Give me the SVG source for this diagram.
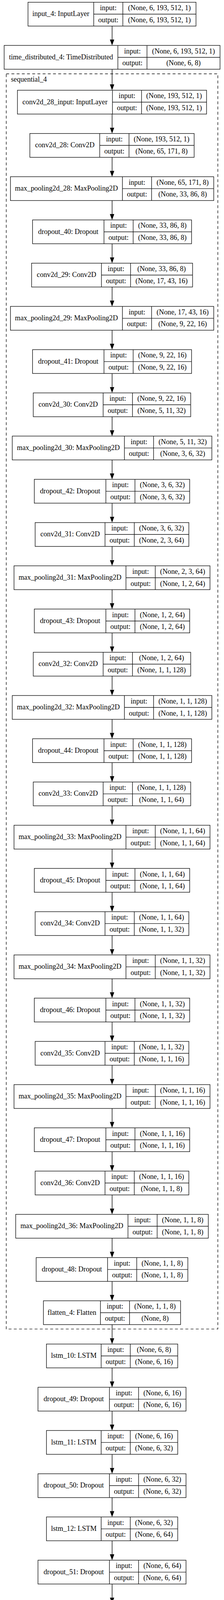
<svg xmlns="http://www.w3.org/2000/svg" width="573" height="4615" viewBox="0 0 573 4615">
<style>
.node rect{fill:#fff;stroke:#111;stroke-width:1.4}
.node path{fill:none;stroke:#111;stroke-width:1.4}
text{font-family:"Liberation Serif","Times New Roman",serif;font-size:18.2px;fill:#000;text-anchor:middle}
.r1{} 
.edges line{stroke:#000;stroke-width:1.4}
.cluster rect{fill:none;stroke:#111;stroke-width:1.4;stroke-dasharray:7.3 6}
</style>
<defs>
<marker id="ah" markerUnits="userSpaceOnUse" markerWidth="16" markerHeight="12" refX="0" refY="5.6" orient="auto"><path d="M0,0 L15,5.6 L0,11.2 z" fill="#000"/></marker>
</defs>
<rect x="0" y="0" width="573" height="4615" fill="#fff"/>
<g id="sequential_4" class="cluster"><rect x="16" y="189" width="541.3" height="3213.4"/><text x="28" y="209.3" style="text-anchor:start">sequential_4</text></g>
<g id="edges" class="edges">
<line x1="286.7" y1="66.7" x2="286.7" y2="101.3" marker-end="url(#ah)"/>
<line x1="286.7" y1="177.3" x2="286.7" y2="216" marker-end="url(#ah)"/>
<line x1="286.7" y1="292" x2="286.7" y2="326.7" marker-end="url(#ah)"/>
<line x1="286.7" y1="402.7" x2="286.7" y2="437.4" marker-end="url(#ah)"/>
<line x1="286.7" y1="513.4" x2="286.7" y2="548" marker-end="url(#ah)"/>
<line x1="286.7" y1="624" x2="286.7" y2="658.7" marker-end="url(#ah)"/>
<line x1="286.7" y1="734.7" x2="286.7" y2="769.4" marker-end="url(#ah)"/>
<line x1="286.7" y1="845.4" x2="286.7" y2="880.1" marker-end="url(#ah)"/>
<line x1="286.7" y1="956.1" x2="286.7" y2="990.8" marker-end="url(#ah)"/>
<line x1="286.7" y1="1066.8" x2="286.7" y2="1101.4" marker-end="url(#ah)"/>
<line x1="286.7" y1="1177.4" x2="286.7" y2="1212.1" marker-end="url(#ah)"/>
<line x1="286.7" y1="1288.1" x2="286.7" y2="1322.8" marker-end="url(#ah)"/>
<line x1="286.7" y1="1398.8" x2="286.7" y2="1433.5" marker-end="url(#ah)"/>
<line x1="286.7" y1="1509.5" x2="286.7" y2="1544.2" marker-end="url(#ah)"/>
<line x1="286.7" y1="1620.2" x2="286.7" y2="1654.8" marker-end="url(#ah)"/>
<line x1="286.7" y1="1730.8" x2="286.7" y2="1765.5" marker-end="url(#ah)"/>
<line x1="286.7" y1="1841.5" x2="286.7" y2="1876.2" marker-end="url(#ah)"/>
<line x1="286.7" y1="1952.2" x2="286.7" y2="1986.9" marker-end="url(#ah)"/>
<line x1="286.7" y1="2062.9" x2="286.7" y2="2097.6" marker-end="url(#ah)"/>
<line x1="286.7" y1="2173.6" x2="286.7" y2="2208.2" marker-end="url(#ah)"/>
<line x1="286.7" y1="2284.2" x2="286.7" y2="2318.9" marker-end="url(#ah)"/>
<line x1="286.7" y1="2394.9" x2="286.7" y2="2429.6" marker-end="url(#ah)"/>
<line x1="286.7" y1="2505.6" x2="286.7" y2="2540.3" marker-end="url(#ah)"/>
<line x1="286.7" y1="2616.3" x2="286.7" y2="2651" marker-end="url(#ah)"/>
<line x1="286.7" y1="2727" x2="286.7" y2="2761.6" marker-end="url(#ah)"/>
<line x1="286.7" y1="2837.6" x2="286.7" y2="2872.3" marker-end="url(#ah)"/>
<line x1="286.7" y1="2948.3" x2="286.7" y2="2983" marker-end="url(#ah)"/>
<line x1="286.7" y1="3059" x2="286.7" y2="3093.7" marker-end="url(#ah)"/>
<line x1="286.7" y1="3169.7" x2="286.7" y2="3204.4" marker-end="url(#ah)"/>
<line x1="286.7" y1="3280.4" x2="286.7" y2="3315" marker-end="url(#ah)"/>
<line x1="286.7" y1="3391" x2="286.7" y2="3425.7" marker-end="url(#ah)"/>
<line x1="286.7" y1="3501.7" x2="286.7" y2="3536.4" marker-end="url(#ah)"/>
<line x1="286.7" y1="3612.4" x2="286.7" y2="3647.1" marker-end="url(#ah)"/>
<line x1="286.7" y1="3723.1" x2="286.7" y2="3757.8" marker-end="url(#ah)"/>
<line x1="286.7" y1="3833.8" x2="286.7" y2="3868.4" marker-end="url(#ah)"/>
<line x1="286.7" y1="3944.4" x2="286.7" y2="3979.1" marker-end="url(#ah)"/>
<line x1="286.7" y1="4055.1" x2="286.7" y2="4089.8" marker-end="url(#ah)"/>
<line x1="286.7" y1="4165.8" x2="286.7" y2="4200.5" marker-end="url(#ah)"/>
<line x1="286.7" y1="4276.5" x2="286.7" y2="4311.2" marker-end="url(#ah)"/>
<line x1="286.7" y1="4387.2" x2="286.7" y2="4421.8" marker-end="url(#ah)"/>
<line x1="286.7" y1="4497.8" x2="286.7" y2="4532.5" marker-end="url(#ah)"/>
</g>
<g id="input_4" class="node" transform="translate(0,5.7)"><rect x="71.6" y="0" width="429.8" height="61"/><path d="M239.7 0V61M314.3 0V61M239.7 30.5H501.4"/><text x="155.65" y="35.5">input_4: InputLayer</text><text x="277" y="20.4">input:</text><text x="277" y="51">output:</text><text x="407.85" y="20.4">(None, 6, 193, 512, 1)</text><text x="407.85" y="51">(None, 6, 193, 512, 1)</text></g>
<g id="time_distributed_4" class="node" transform="translate(0,116.3)"><rect x="10.6" y="0" width="552.2" height="61"/><path d="M301.5 0V61M376 0V61M301.5 30.5H562.8"/><text x="156.05" y="35.5">time_distributed_4: TimeDistributed</text><text x="338.75" y="20.4">input:</text><text x="338.75" y="51">output:</text><text x="469.4" y="20.4">(None, 6, 193, 512, 1)</text><text x="469.4" y="51">(None, 6, 8)</text></g>
<g id="conv2d_28_input" class="node" transform="translate(0,231)"><rect x="44.6" y="0" width="483.8" height="61"/><path d="M287.6 0V61M362.1 0V61M287.6 30.5H528.4"/><text x="166.1" y="35.5">conv2d_28_input: InputLayer</text><text x="324.85" y="20.4">input:</text><text x="324.85" y="51">output:</text><text x="445.25" y="20.4">(None, 193, 512, 1)</text><text x="445.25" y="51">(None, 193, 512, 1)</text></g>
<g id="conv2d_28" class="node" transform="translate(0,341.7)"><rect x="76.4" y="0" width="420.2" height="61"/><path d="M255.1 0V61M330 0V61M255.1 30.5H496.6"/><text x="165.75" y="35.5">conv2d_28: Conv2D</text><text x="292.55" y="20.4">input:</text><text x="292.55" y="51">output:</text><text x="413.3" y="20.4">(None, 193, 512, 1)</text><text x="413.3" y="51">(None, 65, 171, 8)</text></g>
<g id="max_pooling2d_28" class="node" transform="translate(0,452.4)"><rect x="26.7" y="0" width="520" height="61"/><path d="M313.2 0V61M387.7 0V61M313.2 30.5H546.7"/><text x="169.95" y="35.5">max_pooling2d_28: MaxPooling2D</text><text x="350.45" y="20.4">input:</text><text x="350.45" y="51">output:</text><text x="467.2" y="20.4">(None, 65, 171, 8)</text><text x="467.2" y="51">(None, 33, 86, 8)</text></g>
<g id="dropout_40" class="node" transform="translate(0,563)"><rect x="83.3" y="0" width="406.7" height="61"/><path d="M266 0V61M340.6 0V61M266 30.5H490"/><text x="174.65" y="35.5">dropout_40: Dropout</text><text x="303.3" y="20.4">input:</text><text x="303.3" y="51">output:</text><text x="415.3" y="20.4">(None, 33, 86, 8)</text><text x="415.3" y="51">(None, 33, 86, 8)</text></g>
<g id="conv2d_29" class="node" transform="translate(0,673.7)"><rect x="80.8" y="0" width="411.8" height="61"/><path d="M259.5 0V61M334 0V61M259.5 30.5H492.6"/><text x="170.15" y="35.5">conv2d_29: Conv2D</text><text x="296.75" y="20.4">input:</text><text x="296.75" y="51">output:</text><text x="413.3" y="20.4">(None, 33, 86, 8)</text><text x="413.3" y="51">(None, 17, 43, 16)</text></g>
<g id="max_pooling2d_29" class="node" transform="translate(0,784.4)"><rect x="26.7" y="0" width="520" height="61"/><path d="M313.2 0V61M387.7 0V61M313.2 30.5H546.7"/><text x="169.95" y="35.5">max_pooling2d_29: MaxPooling2D</text><text x="350.45" y="20.4">input:</text><text x="350.45" y="51">output:</text><text x="467.2" y="20.4">(None, 17, 43, 16)</text><text x="467.2" y="51">(None, 9, 22, 16)</text></g>
<g id="dropout_41" class="node" transform="translate(0,895.1)"><rect x="83.3" y="0" width="406.7" height="61"/><path d="M266 0V61M340.6 0V61M266 30.5H490"/><text x="174.65" y="35.5">dropout_41: Dropout</text><text x="303.3" y="20.4">input:</text><text x="303.3" y="51">output:</text><text x="415.3" y="20.4">(None, 9, 22, 16)</text><text x="415.3" y="51">(None, 9, 22, 16)</text></g>
<g id="conv2d_30" class="node" transform="translate(0,1005.8)"><rect x="85.1" y="0" width="402.7" height="61"/><path d="M263.8 0V61M338.8 0V61M263.8 30.5H487.8"/><text x="174.45" y="35.5">conv2d_30: Conv2D</text><text x="301.3" y="20.4">input:</text><text x="301.3" y="51">output:</text><text x="413.3" y="20.4">(None, 9, 22, 16)</text><text x="413.3" y="51">(None, 5, 11, 32)</text></g>
<g id="max_pooling2d_30" class="node" transform="translate(0,1116.4)"><rect x="31.4" y="0" width="510.5" height="61"/><path d="M318.3 0V61M392.8 0V61M318.3 30.5H541.9"/><text x="174.85" y="35.5">max_pooling2d_30: MaxPooling2D</text><text x="355.55" y="20.4">input:</text><text x="355.55" y="51">output:</text><text x="467.35" y="20.4">(None, 5, 11, 32)</text><text x="467.35" y="51">(None, 3, 6, 32)</text></g>
<g id="dropout_42" class="node" transform="translate(0,1227.1)"><rect x="87.7" y="0" width="397.6" height="61"/><path d="M270.8 0V61M345.3 0V61M270.8 30.5H485.3"/><text x="179.25" y="35.5">dropout_42: Dropout</text><text x="308.05" y="20.4">input:</text><text x="308.05" y="51">output:</text><text x="415.3" y="20.4">(None, 3, 6, 32)</text><text x="415.3" y="51">(None, 3, 6, 32)</text></g>
<g id="conv2d_31" class="node" transform="translate(0,1337.8)"><rect x="89.9" y="0" width="393.2" height="61"/><path d="M268.6 0V61M343.5 0V61M268.6 30.5H483.1"/><text x="179.25" y="35.5">conv2d_31: Conv2D</text><text x="306.05" y="20.4">input:</text><text x="306.05" y="51">output:</text><text x="413.3" y="20.4">(None, 3, 6, 32)</text><text x="413.3" y="51">(None, 2, 3, 64)</text></g>
<g id="max_pooling2d_31" class="node" transform="translate(0,1448.5)"><rect x="35.8" y="0" width="501.4" height="61"/><path d="M322.3 0V61M397.2 0V61M322.3 30.5H537.2"/><text x="179.05" y="35.5">max_pooling2d_31: MaxPooling2D</text><text x="359.75" y="20.4">input:</text><text x="359.75" y="51">output:</text><text x="467.2" y="20.4">(None, 2, 3, 64)</text><text x="467.2" y="51">(None, 1, 2, 64)</text></g>
<g id="dropout_43" class="node" transform="translate(0,1559.2)"><rect x="87.7" y="0" width="397.6" height="61"/><path d="M270.8 0V61M345.3 0V61M270.8 30.5H485.3"/><text x="179.25" y="35.5">dropout_43: Dropout</text><text x="308.05" y="20.4">input:</text><text x="308.05" y="51">output:</text><text x="415.3" y="20.4">(None, 1, 2, 64)</text><text x="415.3" y="51">(None, 1, 2, 64)</text></g>
<g id="conv2d_32" class="node" transform="translate(0,1669.8)"><rect x="85.1" y="0" width="402.7" height="61"/><path d="M263.8 0V61M338.8 0V61M263.8 30.5H487.8"/><text x="174.45" y="35.5">conv2d_32: Conv2D</text><text x="301.3" y="20.4">input:</text><text x="301.3" y="51">output:</text><text x="413.3" y="20.4">(None, 1, 2, 64)</text><text x="413.3" y="51">(None, 1, 1, 128)</text></g>
<g id="max_pooling2d_32" class="node" transform="translate(0,1780.5)"><rect x="31.4" y="0" width="510.5" height="61"/><path d="M318.3 0V61M392.8 0V61M318.3 30.5H541.9"/><text x="174.85" y="35.5">max_pooling2d_32: MaxPooling2D</text><text x="355.55" y="20.4">input:</text><text x="355.55" y="51">output:</text><text x="467.35" y="20.4">(None, 1, 1, 128)</text><text x="467.35" y="51">(None, 1, 1, 128)</text></g>
<g id="dropout_44" class="node" transform="translate(0,1891.2)"><rect x="83.3" y="0" width="406.7" height="61"/><path d="M266 0V61M340.6 0V61M266 30.5H490"/><text x="174.65" y="35.5">dropout_44: Dropout</text><text x="303.3" y="20.4">input:</text><text x="303.3" y="51">output:</text><text x="415.3" y="20.4">(None, 1, 1, 128)</text><text x="415.3" y="51">(None, 1, 1, 128)</text></g>
<g id="conv2d_33" class="node" transform="translate(0,2001.9)"><rect x="85.1" y="0" width="402.7" height="61"/><path d="M263.8 0V61M338.8 0V61M263.8 30.5H487.8"/><text x="174.45" y="35.5">conv2d_33: Conv2D</text><text x="301.3" y="20.4">input:</text><text x="301.3" y="51">output:</text><text x="413.3" y="20.4">(None, 1, 1, 128)</text><text x="413.3" y="51">(None, 1, 1, 64)</text></g>
<g id="max_pooling2d_33" class="node" transform="translate(0,2112.6)"><rect x="35.8" y="0" width="501.4" height="61"/><path d="M322.3 0V61M397.2 0V61M322.3 30.5H537.2"/><text x="179.05" y="35.5">max_pooling2d_33: MaxPooling2D</text><text x="359.75" y="20.4">input:</text><text x="359.75" y="51">output:</text><text x="467.2" y="20.4">(None, 1, 1, 64)</text><text x="467.2" y="51">(None, 1, 1, 64)</text></g>
<g id="dropout_45" class="node" transform="translate(0,2223.2)"><rect x="87.7" y="0" width="397.6" height="61"/><path d="M270.8 0V61M345.3 0V61M270.8 30.5H485.3"/><text x="179.25" y="35.5">dropout_45: Dropout</text><text x="308.05" y="20.4">input:</text><text x="308.05" y="51">output:</text><text x="415.3" y="20.4">(None, 1, 1, 64)</text><text x="415.3" y="51">(None, 1, 1, 64)</text></g>
<g id="conv2d_34" class="node" transform="translate(0,2333.9)"><rect x="89.9" y="0" width="393.2" height="61"/><path d="M268.6 0V61M343.5 0V61M268.6 30.5H483.1"/><text x="179.25" y="35.5">conv2d_34: Conv2D</text><text x="306.05" y="20.4">input:</text><text x="306.05" y="51">output:</text><text x="413.3" y="20.4">(None, 1, 1, 64)</text><text x="413.3" y="51">(None, 1, 1, 32)</text></g>
<g id="max_pooling2d_34" class="node" transform="translate(0,2444.6)"><rect x="35.8" y="0" width="501.4" height="61"/><path d="M322.3 0V61M397.2 0V61M322.3 30.5H537.2"/><text x="179.05" y="35.5">max_pooling2d_34: MaxPooling2D</text><text x="359.75" y="20.4">input:</text><text x="359.75" y="51">output:</text><text x="467.2" y="20.4">(None, 1, 1, 32)</text><text x="467.2" y="51">(None, 1, 1, 32)</text></g>
<g id="dropout_46" class="node" transform="translate(0,2555.3)"><rect x="87.7" y="0" width="397.6" height="61"/><path d="M270.8 0V61M345.3 0V61M270.8 30.5H485.3"/><text x="179.25" y="35.5">dropout_46: Dropout</text><text x="308.05" y="20.4">input:</text><text x="308.05" y="51">output:</text><text x="415.3" y="20.4">(None, 1, 1, 32)</text><text x="415.3" y="51">(None, 1, 1, 32)</text></g>
<g id="conv2d_35" class="node" transform="translate(0,2666)"><rect x="89.9" y="0" width="393.2" height="61"/><path d="M268.6 0V61M343.5 0V61M268.6 30.5H483.1"/><text x="179.25" y="35.5">conv2d_35: Conv2D</text><text x="306.05" y="20.4">input:</text><text x="306.05" y="51">output:</text><text x="413.3" y="20.4">(None, 1, 1, 32)</text><text x="413.3" y="51">(None, 1, 1, 16)</text></g>
<g id="max_pooling2d_35" class="node" transform="translate(0,2776.6)"><rect x="35.8" y="0" width="501.4" height="61"/><path d="M322.3 0V61M397.2 0V61M322.3 30.5H537.2"/><text x="179.05" y="35.5">max_pooling2d_35: MaxPooling2D</text><text x="359.75" y="20.4">input:</text><text x="359.75" y="51">output:</text><text x="467.2" y="20.4">(None, 1, 1, 16)</text><text x="467.2" y="51">(None, 1, 1, 16)</text></g>
<g id="dropout_47" class="node" transform="translate(0,2887.3)"><rect x="87.7" y="0" width="397.6" height="61"/><path d="M270.8 0V61M345.3 0V61M270.8 30.5H485.3"/><text x="179.25" y="35.5">dropout_47: Dropout</text><text x="308.05" y="20.4">input:</text><text x="308.05" y="51">output:</text><text x="415.3" y="20.4">(None, 1, 1, 16)</text><text x="415.3" y="51">(None, 1, 1, 16)</text></g>
<g id="conv2d_36" class="node" transform="translate(0,2998)"><rect x="89.9" y="0" width="393.2" height="61"/><path d="M268.6 0V61M343.5 0V61M268.6 30.5H483.1"/><text x="179.25" y="35.5">conv2d_36: Conv2D</text><text x="306.05" y="20.4">input:</text><text x="306.05" y="51">output:</text><text x="413.3" y="20.4">(None, 1, 1, 16)</text><text x="413.3" y="51">(None, 1, 1, 8)</text></g>
<g id="max_pooling2d_36" class="node" transform="translate(0,3108.7)"><rect x="40.2" y="0" width="492.6" height="61"/><path d="M327.4 0V61M402 0V61M327.4 30.5H532.8"/><text x="183.8" y="35.5">max_pooling2d_36: MaxPooling2D</text><text x="364.7" y="20.4">input:</text><text x="364.7" y="51">output:</text><text x="467.4" y="20.4">(None, 1, 1, 8)</text><text x="467.4" y="51">(None, 1, 1, 8)</text></g>
<g id="dropout_48" class="node" transform="translate(0,3219.4)"><rect x="92.5" y="0" width="388" height="61"/><path d="M275.2 0V61M349.7 0V61M275.2 30.5H480.5"/><text x="183.85" y="35.5">dropout_48: Dropout</text><text x="312.45" y="20.4">input:</text><text x="312.45" y="51">output:</text><text x="415.1" y="20.4">(None, 1, 1, 8)</text><text x="415.1" y="51">(None, 1, 1, 8)</text></g>
<g id="flatten_4" class="node" transform="translate(0,3330)"><rect x="111.1" y="0" width="350.8" height="61"/><path d="M256.9 0V61M331.4 0V61M256.9 30.5H461.9"/><text x="184" y="35.5">flatten_4: Flatten</text><text x="294.15" y="20.4">input:</text><text x="294.15" y="51">output:</text><text x="396.65" y="20.4">(None, 1, 1, 8)</text><text x="396.65" y="51">(None, 8)</text></g>
<g id="lstm_10" class="node" transform="translate(0,3440.7)"><rect x="118.8" y="0" width="335.8" height="61"/><path d="M258.7 0V61M333.3 0V61M258.7 30.5H454.6"/><text x="188.75" y="35.5">lstm_10: LSTM</text><text x="296" y="20.4">input:</text><text x="296" y="51">output:</text><text x="393.95" y="20.4">(None, 6, 8)</text><text x="393.95" y="51">(None, 6, 16)</text></g>
<g id="dropout_49" class="node" transform="translate(0,3551.4)"><rect x="97.2" y="0" width="378.6" height="61"/><path d="M279.9 0V61M354.5 0V61M279.9 30.5H475.8"/><text x="188.55" y="35.5">dropout_49: Dropout</text><text x="317.2" y="20.4">input:</text><text x="317.2" y="51">output:</text><text x="415.15" y="20.4">(None, 6, 16)</text><text x="415.15" y="51">(None, 6, 16)</text></g>
<g id="lstm_11" class="node" transform="translate(0,3662.1)"><rect x="118.8" y="0" width="335.8" height="61"/><path d="M258.7 0V61M333.3 0V61M258.7 30.5H454.6"/><text x="188.75" y="35.5">lstm_11: LSTM</text><text x="296" y="20.4">input:</text><text x="296" y="51">output:</text><text x="393.95" y="20.4">(None, 6, 16)</text><text x="393.95" y="51">(None, 6, 32)</text></g>
<g id="dropout_50" class="node" transform="translate(0,3772.8)"><rect x="97.2" y="0" width="378.6" height="61"/><path d="M279.9 0V61M354.5 0V61M279.9 30.5H475.8"/><text x="188.55" y="35.5">dropout_50: Dropout</text><text x="317.2" y="20.4">input:</text><text x="317.2" y="51">output:</text><text x="415.15" y="20.4">(None, 6, 32)</text><text x="415.15" y="51">(None, 6, 32)</text></g>
<g id="lstm_12" class="node" transform="translate(0,3883.4)"><rect x="118.8" y="0" width="335.8" height="61"/><path d="M258.7 0V61M333.3 0V61M258.7 30.5H454.6"/><text x="188.75" y="35.5">lstm_12: LSTM</text><text x="296" y="20.4">input:</text><text x="296" y="51">output:</text><text x="393.95" y="20.4">(None, 6, 32)</text><text x="393.95" y="51">(None, 6, 64)</text></g>
<g id="dropout_51" class="node" transform="translate(0,3994.1)"><rect x="97.2" y="0" width="378.6" height="61"/><path d="M279.9 0V61M354.5 0V61M279.9 30.5H475.8"/><text x="188.55" y="35.5">dropout_51: Dropout</text><text x="317.2" y="20.4">input:</text><text x="317.2" y="51">output:</text><text x="415.15" y="20.4">(None, 6, 64)</text><text x="415.15" y="51">(None, 6, 64)</text></g>
<g id="lstm_13" class="node" transform="translate(0,4104.8)"><rect x="118.8" y="0" width="335.8" height="61"/><path d="M258.7 0V61M333.3 0V61M258.7 30.5H454.6"/><text x="188.75" y="35.5">lstm_13: LSTM</text><text x="296" y="20.4">input:</text><text x="296" y="51">output:</text><text x="393.95" y="20.4">(None, 6, 64)</text><text x="393.95" y="51">(None, 32)</text></g>
<g id="dropout_52" class="node" transform="translate(0,4215.5)"><rect x="106.7" y="0" width="360" height="61"/><path d="M289.4 0V61M364 0V61M289.4 30.5H466.7"/><text x="198.05" y="35.5">dropout_52: Dropout</text><text x="326.7" y="20.4">input:</text><text x="326.7" y="51">output:</text><text x="415.35" y="20.4">(None, 32)</text><text x="415.35" y="51">(None, 32)</text></g>
<g id="dense_7" class="node" transform="translate(0,4326.2)"><rect x="128.6" y="0" width="315.8" height="61"/><path d="M267.5 0V61M342 0V61M267.5 30.5H444.4"/><text x="198.05" y="35.5">dense_7: Dense</text><text x="304.75" y="20.4">input:</text><text x="304.75" y="51">output:</text><text x="393.2" y="20.4">(None, 32)</text><text x="393.2" y="51">(None, 16)</text></g>
<g id="dropout_53" class="node" transform="translate(0,4436.8)"><rect x="106.7" y="0" width="360" height="61"/><path d="M289.4 0V61M364 0V61M289.4 30.5H466.7"/><text x="198.05" y="35.5">dropout_53: Dropout</text><text x="326.7" y="20.4">input:</text><text x="326.7" y="51">output:</text><text x="415.35" y="20.4">(None, 16)</text><text x="415.35" y="51">(None, 16)</text></g>
<g id="dense_8" class="node" transform="translate(0,4547.5)"><rect x="128.6" y="0" width="315.8" height="61"/><path d="M267.5 0V61M342 0V61M267.5 30.5H444.4"/><text x="198.05" y="35.5">dense_8: Dense</text><text x="304.75" y="20.4">input:</text><text x="304.75" y="51">output:</text><text x="393.2" y="20.4">(None, 16)</text><text x="393.2" y="51">(None, 6)</text></g>
</svg>
